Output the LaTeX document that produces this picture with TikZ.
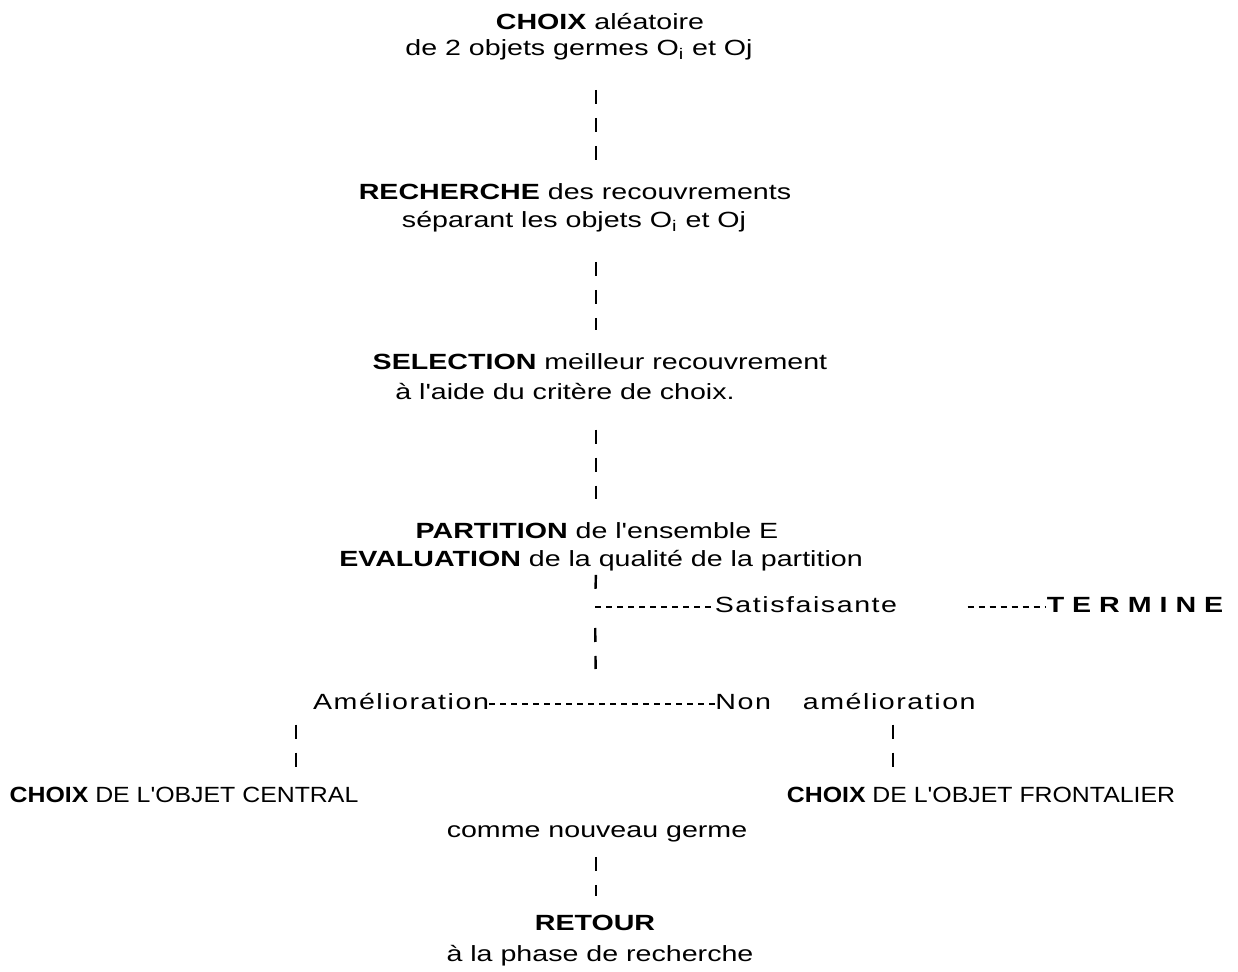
\documentclass[tikz,border=0pt]{standalone}
\usepackage{fontspec}
\setmainfont{Liberation Sans}[FakeStretch=1.3]
\newfontfamily\stepfont{Liberation Sans}[FakeStretch=1.3]
\newfontfamily\rowfont{Liberation Sans}[FakeStretch=1.3, LetterSpace=7]
\newfontfamily\narrowfont{Liberation Sans}[FakeStretch=1.13]
\usetikzlibrary{positioning,calc}
\tikzset{
  steptext/.style={inner sep=0pt, anchor=base, font=\stepfont\fontsize{11pt}{14pt}\selectfont},
  rowtext/.style={inner sep=0pt, anchor=base, font=\rowfont\fontsize{11pt}{14pt}\selectfont},
  choixtext/.style={inner sep=0pt, anchor=base, font=\narrowfont\fontsize{11pt}{14pt}\selectfont},
  bars/.style={line width=1.2pt, dash pattern=on 7pt off 7pt},
  barlink/.style={bars, shorten <=14.5pt, shorten >=12pt},
  sidelink/.style={bars, shorten <=7pt, shorten >=9pt},
  hyph/.style={line width=1pt, dash pattern=on 3pt off 2.5pt}}
\begin{document}
\begin{tikzpicture}[x=0.5pt, y=-0.5pt]
  \useasboundingbox[fill=white] (0,0) rectangle (1238,972);
  % junctions of the text chart
  \coordinate (ax) at (596,0);
  \coordinate (jsat) at (595,607);
  \coordinate (jam) at (596,704);
  \coordinate (lax) at (296,0);
  \coordinate (rax) at (893,0);

  \node[steptext] (choixA) at (600,30) {\textbf{CHOIX} aléatoire};
  \node[steptext] (choixB) at (579,56) {de 2 objets germes O\textsubscript{i} et Oj};
  \node[steptext] (rechA) at (575,200) {\textbf{RECHERCHE} des recouvrements};
  \node[steptext] (rechB) at (574,228) {séparant les objets O\textsubscript{i} et Oj};
  \node[steptext] (selA) at (600,370) {\textbf{SELECTION} meilleur recouvrement};
  \node[steptext] (selB) at (565,400) {à l'aide du critère de choix.};
  \node[steptext] (partA) at (597,539) {\textbf{PARTITION} de l'ensemble E};
  \node[steptext] (partB) at (601,567) {\textbf{EVALUATION} de la qualité de la partition};
  \node[rowtext] (sat) at (806,613) {Satisfaisante};
  \node[steptext] (term) at (1135,613) {\textbf{T E R M I N E}};
  \node[rowtext] (ame) at (401,710) {Amélioration};
  \node[rowtext, anchor=base west] (nonam) at (715,710) {Non\hspace{16pt}amélioration};
  \node[choixtext] (central) at (184,803) {\textbf{CHOIX} DE L'OBJET CENTRAL};
  \node[choixtext] (frontal) at (981,803) {\textbf{CHOIX} DE L'OBJET FRONTALIER};
  \node[steptext] (germe) at (597,838) {comme nouveau germe};
  \node[steptext] (retour) at (595,930) {\textbf{RETOUR}};
  \node[steptext] (phase) at (600,961) {à la phase de recherche};

  \draw[barlink] (choixB.south -| ax) -- (rechA.north -| ax);
  \draw[barlink] (rechB.south -| ax) -- (selA.north -| ax);
  \draw[barlink] (selB.south -| ax) -- (partA.north -| ax);
  \draw[bars, shorten <=1.5pt, shorten >=9pt] (partB.south -| ax) -- (jsat);
  \draw[bars, shorten <=10.5pt, shorten >=17.5pt] (jsat) -- (jam);
  \draw[hyph] (jsat) -- (jsat -| sat.west);
  \draw[hyph, shorten <=35pt] (sat.east |- jsat) -- (term.west |- jsat);
  \draw[hyph] (ame.east |- jam) -- (nonam.west |- jam);
  \draw[sidelink] (ame.south -| lax) -- (central.north -| lax);
  \draw[sidelink] (nonam.south -| rax) -- (frontal.north -| rax);
  \draw[sidelink] (germe.south -| ax) -- (retour.north -| ax);
\end{tikzpicture}
\end{document}
